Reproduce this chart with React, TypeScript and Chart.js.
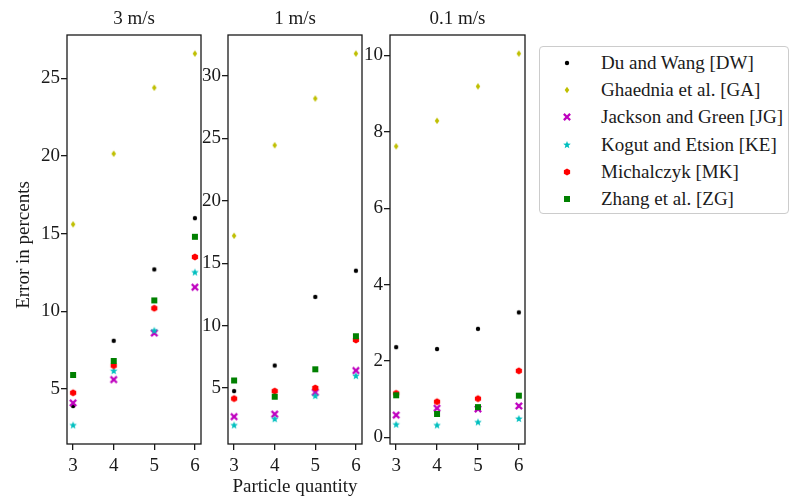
import React, { useEffect, useRef } from 'react';
import { Chart, registerables } from 'chart.js';

Chart.register(...registerables);

// ---------- data ----------
const particleQuantity = [3, 4, 5, 6];
const xTickValues = [3, 4, 5, 6];

const seriesNames = [
  'Du and Wang [DW]',
  'Ghaednia et al. [GA]',
  'Jackson and Green [JG]',
  'Kogut and Etsion [KE]',
  'Michalczyk [MK]',
  'Zhang et al. [ZG]',
];

const panelTitles = ['3 m/s', '1 m/s', '0.1 m/s'];

// 3 m/s
const dw3 = [3.9, 8.1, 12.7, 16.0];
const ga3 = [15.6, 20.15, 24.4, 26.6];
const jg3 = [4.1, 5.6, 8.6, 11.55];
const ke3 = [2.65, 6.15, 8.75, 12.5];
const mk3 = [4.75, 6.5, 10.2, 13.5];
const zg3 = [5.9, 6.8, 10.7, 14.8];

// 1 m/s
const dw1 = [4.75, 6.8, 12.3, 14.4];
const ga1 = [17.2, 24.45, 28.2, 31.8];
const jg1 = [2.7, 2.9, 4.65, 6.4];
const ke1 = [2.0, 2.5, 4.35, 5.95];
const mk1 = [4.15, 4.75, 5.0, 8.85];
const zg1 = [5.6, 4.3, 6.5, 9.15];

// 0.1 m/s
const dw01 = [2.36, 2.31, 2.84, 3.27];
const ga01 = [7.62, 8.29, 9.19, 10.05];
const jg01 = [0.58, 0.76, 0.74, 0.82];
const ke01 = [0.33, 0.31, 0.39, 0.48];
const mk01 = [1.15, 0.93, 1.01, 1.74];
const zg01 = [1.1, 0.61, 0.79, 1.09];

const yTicks3 = [5, 10, 15, 20, 25];
const yTicks1 = [5, 10, 15, 20, 25, 30];
const yTicks01 = [0, 2, 4, 6, 8, 10];

const xAxisLabel = 'Particle quantity';
const yAxisLabel = 'Error in percents';

// ---------- styling ----------
const FONT = '"Liberation Serif", "DejaVu Serif", serif';
const INK = '#1a1a1a';
const seriesColors = ['#000000', '#bfbf00', '#bf00bf', '#00bfbf', '#ff0000', '#008000'];
const seriesShapes = ['dot', 'diamond', 'x', 'star', 'hexagon', 'square'];

function makeMarker(shape: string, color: string): HTMLCanvasElement {
  const size = 10;
  const c = document.createElement('canvas');
  c.width = size;
  c.height = size;
  const g = c.getContext('2d')!;
  g.translate(size / 2, size / 2);
  g.fillStyle = color;
  g.strokeStyle = color;
  g.beginPath();
  if (shape === 'dot') {
    g.arc(0, 0, 2.2, 0, Math.PI * 2);
    g.fill();
  } else if (shape === 'diamond') {
    g.moveTo(0, -3.2);
    g.lineTo(2.3, 0);
    g.lineTo(0, 3.2);
    g.lineTo(-2.3, 0);
    g.closePath();
    g.fill();
  } else if (shape === 'x') {
    g.lineWidth = 2.3;
    g.lineCap = 'square';
    g.moveTo(-2.3, -2.3);
    g.lineTo(2.3, 2.3);
    g.moveTo(2.3, -2.3);
    g.lineTo(-2.3, 2.3);
    g.stroke();
  } else if (shape === 'star') {
    const ro = 4, ri = 1.7;
    for (let i = 0; i < 10; i++) {
      const r = i % 2 === 0 ? ro : ri;
      const a = -Math.PI / 2 + (i * Math.PI) / 5;
      const px = r * Math.cos(a), py = r * Math.sin(a);
      if (i === 0) g.moveTo(px, py); else g.lineTo(px, py);
    }
    g.closePath();
    g.fill();
  } else if (shape === 'hexagon') {
    const r = 3.6;
    for (let i = 0; i < 6; i++) {
      const a = -Math.PI / 2 + (i * Math.PI) / 3;
      const px = r * Math.cos(a), py = r * Math.sin(a);
      if (i === 0) g.moveTo(px, py); else g.lineTo(px, py);
    }
    g.closePath();
    g.fill();
  } else {
    g.rect(-3, -3, 6, 6);
    g.fill();
  }
  return c;
}

type Panel = {
  left: number;
  width: number;
  yWidth: number;
  padRight: number;
  title: string;
  series: number[][];
  yTicks: number[];
  xLabel?: string;
  yLabel?: string;
};

const panels: Panel[] = [
  { left: 0, width: 206, yWidth: 67, padRight: 4, title: panelTitles[0], series: [dw3, ga3, jg3, ke3, mk3, zg3], yTicks: yTicks3, yLabel: yAxisLabel },
  { left: 196, width: 171, yWidth: 32, padRight: 4, title: panelTitles[1], series: [dw1, ga1, jg1, ke1, mk1, zg1], yTicks: yTicks1, xLabel: xAxisLabel },
  { left: 360, width: 170, yWidth: 30, padRight: 4, title: panelTitles[2], series: [dw01, ga01, jg01, ke01, mk01, zg01], yTicks: yTicks01 },
];

const decorPlugin = {
  id: 'decor',
  afterDraw(chart: any, _args: any, opts: any) {
    const { ctx, chartArea: a } = chart;
    ctx.save();
    ctx.strokeStyle = INK;
    ctx.lineWidth = 1.3;
    ctx.strokeRect(a.left, a.top, a.right - a.left, a.bottom - a.top);
    ctx.fillStyle = INK;
    ctx.font = `19px ${FONT}`;
    ctx.textAlign = 'center';
    ctx.textBaseline = 'middle';
    ctx.fillText(opts.title, (a.left + a.right) / 2, 19);
    if (opts.xLabel) ctx.fillText(opts.xLabel, (a.left + a.right) / 2, 487);
    if (opts.yLabel) {
      ctx.translate(24.5, 245);
      ctx.rotate(-Math.PI / 2);
      ctx.fillText(opts.yLabel, 0, 0);
    }
    ctx.restore();
  },
};

function PanelChart({ p, markers }: { p: Panel; markers: HTMLCanvasElement[] | null }) {
  const ref = useRef<HTMLCanvasElement | null>(null);
  useEffect(() => {
    if (!ref.current || !markers) return;
    const all = p.series.flat();
    const lo = Math.min(...all), hi = Math.max(...all);
    const m = (hi - lo) * 0.05;
    const xm = (xTickValues[xTickValues.length - 1] - xTickValues[0]) * 0.05;
    const chart = new Chart(ref.current, {
      type: 'scatter',
      data: {
        datasets: p.series.map((vals, i) => ({
          label: seriesNames[i],
          data: particleQuantity.map((x, j) => ({ x, y: vals[j] })),
          pointStyle: markers[i],
          pointRadius: 4,
          backgroundColor: seriesColors[i],
          borderColor: seriesColors[i],
          order: seriesNames.length - i,
        })),
      },
      options: {
        animation: false,
        responsive: false,
        events: [],
        layout: { padding: { top: 35, left: 0, right: p.padRight, bottom: 0 } },
        plugins: {
          legend: { display: false },
          tooltip: { enabled: false },
          decor: { title: p.title, xLabel: p.xLabel, yLabel: p.yLabel },
        } as any,
        scales: {
          x: {
            type: 'linear',
            min: xTickValues[0] - xm,
            max: xTickValues[xTickValues.length - 1] + xm,
            afterBuildTicks: (axis: any) => {
              axis.ticks = xTickValues.map((v) => ({ value: v }));
            },
            afterFit: (axis: any) => {
              axis.height = 54;
            },
            grid: { display: true, drawOnChartArea: false, drawTicks: true, tickLength: 6, color: INK, lineWidth: 1.3 },
            border: { display: false },
            ticks: { color: INK, font: { family: FONT, size: 19 }, padding: 5, autoSkip: false, maxRotation: 0 },
          },
          y: {
            type: 'linear',
            min: lo - m,
            max: hi + m,
            afterBuildTicks: (axis: any) => {
              axis.ticks = p.yTicks.map((v) => ({ value: v }));
            },
            afterFit: (axis: any) => {
              axis.width = p.yWidth;
            },
            grid: { display: true, drawOnChartArea: false, drawTicks: true, tickLength: 6, color: INK, lineWidth: 1.3 },
            border: { display: false },
            ticks: { color: INK, font: { family: FONT, size: 19 }, padding: 1, autoSkip: false },
          },
        },
      },
      plugins: [decorPlugin],
    } as any);
    return () => chart.destroy();
  }, [p, markers]);
  return (
    <canvas
      ref={ref}
      width={p.width}
      height={498}
      style={{ position: 'absolute', left: p.left, top: 0, width: p.width, height: 498 }}
    />
  );
}

function LegendBox({ markers }: { markers: HTMLCanvasElement[] | null }) {
  return (
    <div
      style={{
        position: 'absolute',
        left: 539,
        top: 46,
        width: 250,
        height: 168,
        border: '1px solid #cccccc',
        borderRadius: 4,
        boxSizing: 'border-box',
        background: '#fff',
        fontFamily: FONT,
        fontSize: 19,
        color: INK,
      }}
    >
      {seriesNames.map((name, i) => (
        <div key={name} style={{ position: 'absolute', left: 0, top: 16 + i * 27.2 - 12, height: 24, width: 248 }}>
          {markers && (
            <img
              src={markers[i].toDataURL()}
              width={10}
              height={10}
              style={{ position: 'absolute', left: 22, top: 7 }}
              alt=""
            />
          )}
          <span style={{ position: 'absolute', left: 61, top: 0, lineHeight: '24px', whiteSpace: 'nowrap' }}>{name}</span>
        </div>
      ))}
    </div>
  );
}

export default function App() {
  const [markers, setMarkers] = React.useState<HTMLCanvasElement[] | null>(null);
  useEffect(() => {
    setMarkers(seriesShapes.map((s, i) => makeMarker(s, seriesColors[i])));
  }, []);
  return (
    <div style={{ position: 'absolute', left: 0, top: 0, width: 792, height: 498, background: '#fff', overflow: 'hidden' }}>
      {panels.map((p, i) => (
        <PanelChart key={i} p={p} markers={markers} />
      ))}
      <LegendBox markers={markers} />
    </div>
  );
}
